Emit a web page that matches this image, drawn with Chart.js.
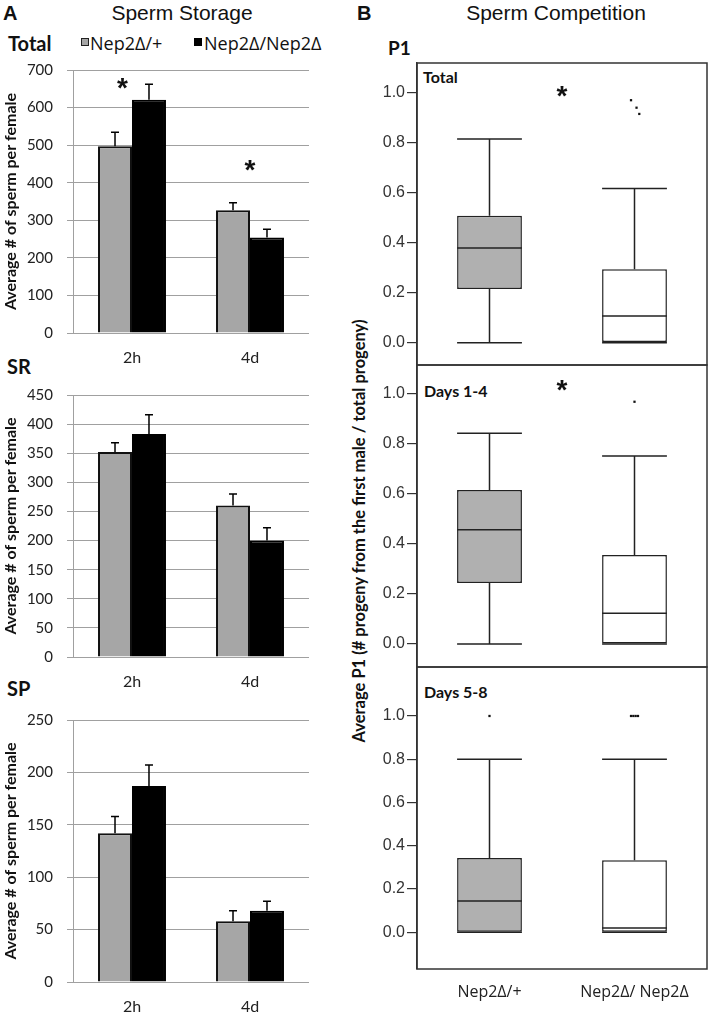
<!DOCTYPE html>
<html><head><meta charset="utf-8">
<script src="https://cdn.jsdelivr.net/npm/chart.js@4.4.1/dist/chart.umd.min.js"></script>
<style>
html,body{margin:0;padding:0;background:#fff;}
body{width:711px;height:1015px;position:relative;overflow:hidden;}
canvas{position:absolute;}
.t{position:absolute;white-space:nowrap;line-height:1;color:#111;}
.sq{position:absolute;width:6px;height:6px;border:1.5px solid #222;}
</style></head><body>
<div class="t" style="left:3px;top:2px;font:bold 20px 'Liberation Sans';">A</div>
<div class="t" style="left:182px;top:1px;font:21px 'Liberation Sans';transform:translateX(-50%);">Sperm Storage</div>
<div class="t" style="left:357px;top:2px;font:bold 20px 'Liberation Sans';">B</div>
<div class="t" style="left:556px;top:1px;font:21px 'Liberation Sans';transform:translateX(-50%);">Sperm Competition</div>
<div class="t" style="left:8px;top:31px;font:bold 20px Lato;">Total</div>
<div class="t" style="left:7px;top:354px;font:bold 20px Lato;">SR</div>
<div class="t" style="left:7px;top:676px;font:bold 20px Lato;">SP</div>
<div class="t" style="left:388px;top:36px;font:bold 19px Lato;">P1</div>
<div class="sq" style="left:81px;top:38px;background:#a6a6a6;"></div>
<div class="t" id="lg1" style="left:90px;top:31px;font:18px 'Open Sans';"></div>
<div class="sq" style="left:194px;top:38px;background:#000;border-color:#000;"></div>
<div class="t" id="lg2" style="left:204px;top:31px;font:18px 'Open Sans';"></div>
<div class="t" style="left:423px;top:67px;font:bold 16px Lato;">Total</div>
<div class="t" style="left:424px;top:381px;font:bold 16px Lato;">Days 1-4</div>
<div class="t" style="left:424px;top:682px;font:bold 16px Lato;">Days 5-8</div>
<div class="t" style="left:359px;top:531px;font:bold 16.5px Lato;transform:translate(-50%,-50%) rotate(-90deg);">Average P1 (# progeny from the first male / total progeny)</div>

<canvas id="L1" width="320" height="310" style="left:0;top:60px;"></canvas>
<canvas id="L2" width="320" height="309" style="left:0;top:385px;"></canvas>
<canvas id="L3" width="320" height="305" style="left:0;top:710px;"></canvas>
<canvas id="R1" width="371" height="318" style="left:340px;top:55px;"></canvas>
<canvas id="R2" width="371" height="318" style="left:340px;top:357px;"></canvas>
<canvas id="R3" width="371" height="356" style="left:340px;top:659px;"></canvas>
<script>
// ---------- Panel A data ----------
const barCategories = ['2h', '4d'];
const seriesNames = ['Nep2Δ/+', 'Nep2Δ/Nep2Δ'];
const totalHet = [497, 327];
const totalHom = [621, 254];
const totalHetErr = [37, 20];
const totalHomErr = [41, 22];
const srHet = [352, 260];
const srHom = [383, 200];
const srHetErr = [16, 20];
const srHomErr = [33, 22];
const spHet = [142, 58];
const spHom = [187, 68];
const spHetErr = [16, 10];
const spHomErr = [20, 9];
const totalTicks = [0, 100, 200, 300, 400, 500, 600, 700];
const srTicks = [0, 50, 100, 150, 200, 250, 300, 350, 400, 450];
const spTicks = [0, 50, 100, 150, 200, 250];
const totalStarCats = [0, 1];
const totalStarVals = [670, 452];
const totalStarShift = [-0.08, 0];

// ---------- Panel B data ----------
const boxGroups = ['Nep2Δ/+', 'Nep2Δ/ Nep2Δ'];
const p1Ticks = [0, 0.2, 0.4, 0.6, 0.8, 1.0];
const totMin = [0, 0], totQ1 = [0.215, 0], totMed = [0.379, 0.107], totQ3 = [0.508, 0.294], totMax = [0.816, 0.617];
const totOutGroup = [1, 1, 1], totOutVal = [0.971, 0.941, 0.916], totOutJitter = [-0.024, 0.014, 0.033];
const d14Min = [0, 0], d14Q1 = [0.244, 0], d14Med = [0.457, 0.123], d14Q3 = [0.616, 0.356], d14Max = [0.843, 0.752];
const d14OutGroup = [1], d14OutVal = [0.969], d14OutJitter = [0];
const d58Min = [0, 0], d58Q1 = [0, 0], d58Med = [0.145, 0.02], d58Q3 = [0.343, 0.333], d58Max = [0.8, 0.8];
const d58OutGroup = [0, 1, 1, 1, 1], d58OutVal = [1, 1, 1, 1, 1], d58OutJitter = [0, -0.024, -0.008, 0.008, 0.024];
const totStar = 1.016, d14Star = 1.045;

document.getElementById('lg1').textContent = seriesNames[0];
document.getElementById('lg2').textContent = seriesNames[1];

const errorBarPlugin = {
  id: 'errbars',
  afterDatasetsDraw(chart) {
    const ctx = chart.ctx, y = chart.scales.y;
    chart.data.datasets.forEach((ds, di) => {
      const meta = chart.getDatasetMeta(di);
      meta.data.forEach((bar, i) => {
        const top = y.getPixelForValue(ds.data[i]);
        const end = y.getPixelForValue(ds.data[i] + ds.errors[i]);
        ctx.save();
        ctx.strokeStyle = '#000'; ctx.lineWidth = 1.5;
        ctx.beginPath();
        ctx.moveTo(bar.x, top); ctx.lineTo(bar.x, end);
        ctx.moveTo(bar.x - 4, end); ctx.lineTo(bar.x + 4, end);
        ctx.stroke(); ctx.restore();
      });
    });
  }
};

function drawStar(ctx, x, yc) {
  const size = 28;
  ctx.save();
  ctx.fillStyle = '#111';
  ctx.font = 'bold ' + size + 'px "Liberation Sans"';
  ctx.textAlign = 'center';
  ctx.textBaseline = 'alphabetic';
  ctx.fillText('*', x, yc + 0.57 * size);
  ctx.restore();
}

const barStarPlugin = {
  id: 'barstars',
  afterDraw(chart, args, opts) {
    if (!opts.cats) return;
    const x = chart.scales.x, y = chart.scales.y;
    const cw = x.getPixelForValue(1) - x.getPixelForValue(0);
    opts.cats.forEach((c, i) => {
      drawStar(chart.ctx, x.getPixelForValue(c) + opts.shift[i] * cw, y.getPixelForValue(opts.vals[i]));
    });
  }
};

function barChart(id, het, hom, hetErr, homErr, ticks, stars, xHeight) {
  return new Chart(document.getElementById(id), {
    type: 'bar',
    data: {
      labels: barCategories,
      datasets: [
        { label: seriesNames[0], data: het, errors: hetErr, backgroundColor: '#a6a6a6', borderColor: '#111', borderWidth: 2 },
        { label: seriesNames[1], data: hom, errors: homErr, backgroundColor: '#000', borderColor: '#000', borderWidth: 2 }
      ]
    },
    options: {
      responsive: false, animation: false, devicePixelRatio: 1,
      layout: { padding: { top: 10, right: 11, left: 0, bottom: 0 } },
      datasets: { bar: { categoryPercentage: 0.576, barPercentage: 1 } },
      plugins: { legend: { display: false }, tooltip: { enabled: false }, barstars: stars || {} },
      scales: {
        x: {
          grid: { display: false, drawTicks: false }, border: { display: false },
          ticks: { font: { family: 'Lato', size: 16 }, color: '#222', padding: 15 },
          afterFit: s => { s.height = xHeight; }
        },
        y: {
          min: 0, max: ticks[ticks.length - 1],
          afterBuildTicks: s => { s.ticks = ticks.map(v => ({ value: v })); },
          grid: { color: '#a0a0a0', tickLength: 6, lineWidth: 1 },
          border: { color: '#a0a0a0' },
          ticks: { padding: 14, font: { family: 'Lato', size: 15 }, color: '#222' },
          title: { display: true, text: 'Average # of sperm per female', color: '#111',
                   font: { family: 'Lato', size: 16, weight: 'bold' }, padding: { top: 1, bottom: 0 } },
          afterFit: s => { s.width = 73; s.paddingTop = 0; s.paddingBottom = 0; }
        }
      }
    },
    plugins: [errorBarPlugin, barStarPlugin]
  });
}

barChart('L1', totalHet, totalHom, totalHetErr, totalHomErr, totalTicks,
  { cats: totalStarCats, vals: totalStarVals, shift: totalStarShift }, 37);
barChart('L2', srHet, srHom, srHetErr, srHomErr, srTicks, null, 37);
barChart('L3', spHet, spHom, spHetErr, spHomErr, spTicks, null, 33);

const boxPlugin = {
  id: 'boxparts',
  afterDatasetsDraw(chart, args, opts) {
    const ctx = chart.ctx, y = chart.scales.y;
    const meta = chart.getDatasetMeta(0);
    meta.data.forEach((bar, i) => {
      const half = bar.width / 2;
      const x = bar.x;
      const yMin = y.getPixelForValue(opts.min[i]);
      const yQ1 = y.getPixelForValue(opts.q1[i]);
      const yMed = y.getPixelForValue(opts.med[i]);
      const yQ3 = y.getPixelForValue(opts.q3[i]);
      const yMax = y.getPixelForValue(opts.max[i]);
      ctx.save();
      ctx.strokeStyle = '#222'; ctx.lineWidth = 1.5;
      ctx.beginPath();
      ctx.moveTo(x, yQ3); ctx.lineTo(x, yMax);
      ctx.moveTo(x - half, yMax); ctx.lineTo(x + half, yMax);
      ctx.moveTo(x, yQ1); ctx.lineTo(x, yMin);
      ctx.moveTo(x - half, yMin); ctx.lineTo(x + half, yMin);
      ctx.moveTo(x - half, yMed); ctx.lineTo(x + half, yMed);
      ctx.stroke();
      ctx.restore();
    });
  }
};
const framePlugin = {
  id: 'frame',
  afterDraw(chart, args, opts) {
    const a = chart.chartArea, ctx = chart.ctx;
    ctx.save();
    ctx.strokeStyle = '#333'; ctx.lineWidth = 1.5;
    ctx.strokeRect(a.left, a.top, a.right - a.left, a.bottom - a.top);
    ctx.restore();
    if (opts.star !== undefined && opts.star !== null) {
      drawStar(ctx, chart.scales.x.getPixelForValue(1), chart.scales.y.getPixelForValue(opts.star));
    }
  }
};

function boxChart(id, mn, q1, med, q3, mx, outG, outV, outJ, star, yMin, yMax, showX) {
  const outliers = outV.map((v, i) => ({ x: outG[i] + 0.5 + outJ[i], y: v }));
  return new Chart(document.getElementById(id), {
    type: 'bar',
    data: {
      datasets: [
        { data: boxGroups.map((g, i) => ({ x: i + 0.5, y: [q1[i], q3[i]] })),
          backgroundColor: ['#b0b0b0', '#ffffff'],
          borderColor: '#222', borderWidth: 1.5, borderSkipped: false,
          categoryPercentage: 1, barPercentage: 0.447 },
        { type: 'scatter', data: outliers, pointStyle: 'rect',
          pointRadius: 1.6, backgroundColor: '#111', borderWidth: 0, showLine: false }
      ]
    },
    options: {
      responsive: false, animation: false, devicePixelRatio: 1,
      layout: { padding: { top: 8, right: 3, left: 0, bottom: showX ? 0 : 8 } },
      plugins: { legend: { display: false }, tooltip: { enabled: false },
        boxparts: { min: mn, q1: q1, med: med, q3: q3, max: mx },
        frame: { star: star } },
      scales: {
        x: {
          type: 'linear', min: 0, max: 2, offset: false,
          display: showX,
          afterBuildTicks: s => { s.ticks = boxGroups.map((g, i) => ({ value: i + 0.5 })); },
          grid: { display: false, drawTicks: false }, border: { display: false },
          ticks: { font: { family: 'Open Sans', size: 16 }, color: '#222', padding: 14,
                   callback: (v, i) => boxGroups[i] },
          afterFit: s => { if (showX) s.height = 46; s.paddingLeft = 0; s.paddingRight = 0; }
        },
        y: {
          min: yMin, max: yMax,
          afterBuildTicks: s => { s.ticks = p1Ticks.map(v => ({ value: v })); },
          grid: { drawOnChartArea: false, tickLength: 10, color: '#333', lineWidth: 1.2 },
          border: { color: '#333', width: 1.5 },
          ticks: { padding: 2, font: { family: 'Liberation Sans', size: 16 }, color: '#333',
                   callback: v => Number(v).toFixed(1) },
          afterFit: s => { s.width = 77; s.paddingTop = 0; s.paddingBottom = 0; }
        }
      }
    },
    plugins: [boxPlugin, framePlugin]
  });
}

boxChart('R1', totMin, totQ1, totMed, totQ3, totMax, totOutGroup, totOutVal, totOutJitter, totStar, -0.0894, 1.120, false);
boxChart('R2', d14Min, d14Q1, d14Med, d14Q3, d14Max, d14OutGroup, d14OutVal, d14OutJitter, d14Star, -0.092, 1.116, false);
boxChart('R3', d58Min, d58Q1, d58Med, d58Q3, d58Max, d58OutGroup, d58OutVal, d58OutJitter, null, -0.170, 1.2265, true);
</script>
</body></html>
